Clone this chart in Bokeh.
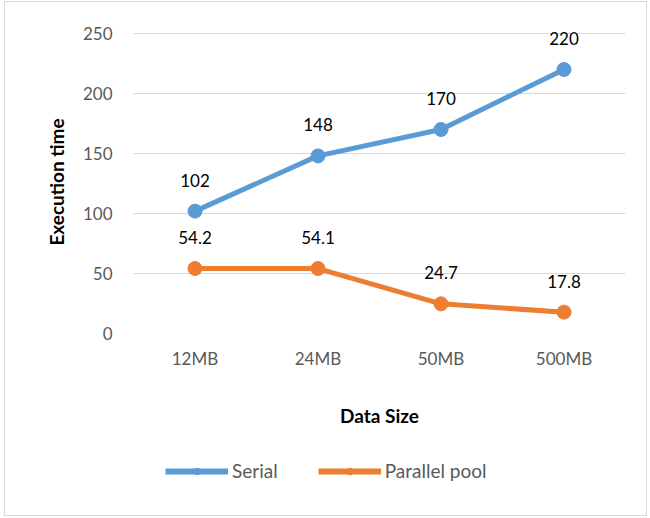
from bokeh.plotting import figure
from bokeh.layouts import column
from bokeh.models import (ColumnDataSource, FactorRange, Range1d, Legend, LegendItem,
                          LabelSet, FixedTicker)
from bokeh.core.properties import value
from bokeh.embed import file_html
from bokeh.resources import INLINE

# Execution time per data size
sizes = ["12MB", "24MB", "50MB", "500MB"]
serial = [102, 148, 170, 220]
parallel = [54.2, 54.1, 24.7, 17.8]
serial_labels = ["102", "148", "170", "220"]
parallel_labels = ["54.2", "54.1", "24.7", "17.8"]
y_ticks = [0, 50, 100, 150, 200, 250]

BLUE = "#5B9BD5"
ORANGE = "#ED7D31"
FONT = "Lato"

src = ColumnDataSource(dict(x=sizes, serial=serial, parallel=parallel,
                            sl=serial_labels, pl=parallel_labels))

# main chart
p = figure(x_range=FactorRange(*sizes, range_padding=0), y_range=Range1d(0, 252.5),
           width=641, height=433, output_backend="svg", toolbar_location=None,
           min_border_left=128, min_border_right=21, min_border_top=28, min_border_bottom=102)
p.outline_line_color = None
p.background_fill_color = "white"
p.border_fill_color = "white"

p.xgrid.grid_line_color = None
p.ygrid.grid_line_color = "#d9d9d9"
p.ygrid.grid_line_width = 1
p.yaxis.ticker = FixedTicker(ticks=y_ticks)

for ax in (p.xaxis[0], p.yaxis[0]):
    ax.axis_line_color = None
    ax.major_tick_line_color = None
    ax.minor_tick_line_color = None
    ax.major_label_text_font = FONT
    ax.major_label_text_font_size = "17px"
    ax.major_label_text_color = "#595959"
    ax.axis_label_text_font = FONT
    ax.axis_label_text_font_style = "bold"
    ax.axis_label_text_font_size = "19px"
    ax.axis_label_text_color = "#000000"

p.yaxis.axis_label = "Execution time"
p.yaxis.major_label_standoff = 15
p.yaxis.axis_label_standoff = 12
p.xaxis.axis_label = "Data Size"
p.xaxis.major_label_standoff = 8
p.xaxis.axis_label_standoff = 32

p.line("x", "serial", source=src, line_color=BLUE, line_width=5)
p.scatter("x", "serial", source=src, size=14, fill_color=BLUE, line_color=BLUE)
p.line("x", "parallel", source=src, line_color=ORANGE, line_width=5)
p.scatter("x", "parallel", source=src, size=14, fill_color=ORANGE, line_color=ORANGE)

for col, lab in (("serial", "sl"), ("parallel", "pl")):
    p.add_layout(LabelSet(x="x", y=col, text=lab, source=src, y_offset=31,
                          text_align="center", text_baseline="middle",
                          text_font=value(FONT), text_font_size="17px", text_color="#000000"))

# legend strip under the chart (its frame lines up with the chart's frame)
q = figure(x_range=FactorRange(*sizes, range_padding=0), y_range=Range1d(1000, 1001),
           width=641, height=80, output_backend="svg", toolbar_location=None,
           min_border=0)
q.axis.visible = False
q.grid.visible = False
q.outline_line_color = None
q.border_fill_color = "white"

ls = q.line("x", "serial", source=src, line_color=BLUE, line_width=6)
ds = q.scatter("x", "serial", source=src, size=12, fill_color=BLUE, line_color=BLUE)
lp = q.line("x", "parallel", source=src, line_color=ORANGE, line_width=6)
dp = q.scatter("x", "parallel", source=src, size=12, fill_color=ORANGE, line_color=ORANGE)

legend = Legend(items=[LegendItem(label="Serial", renderers=[ls, ds]),
                       LegendItem(label="Parallel pool", renderers=[lp, dp])],
                orientation="horizontal", location=(32, 33),
                glyph_width=63, glyph_height=16, label_standoff=4, spacing=40,
                label_text_font=FONT, label_text_font_size="19px", label_text_color="#595959",
                border_line_color=None, background_fill_alpha=0, margin=0, padding=0)
q.add_layout(legend)

layout = column(p, q, spacing=0, margin=(1, 4, 2, 4),
                styles={"border": "1px solid #d9d9d9", "background-color": "white"})

open("out.html", "w").write(file_html(layout, INLINE))
